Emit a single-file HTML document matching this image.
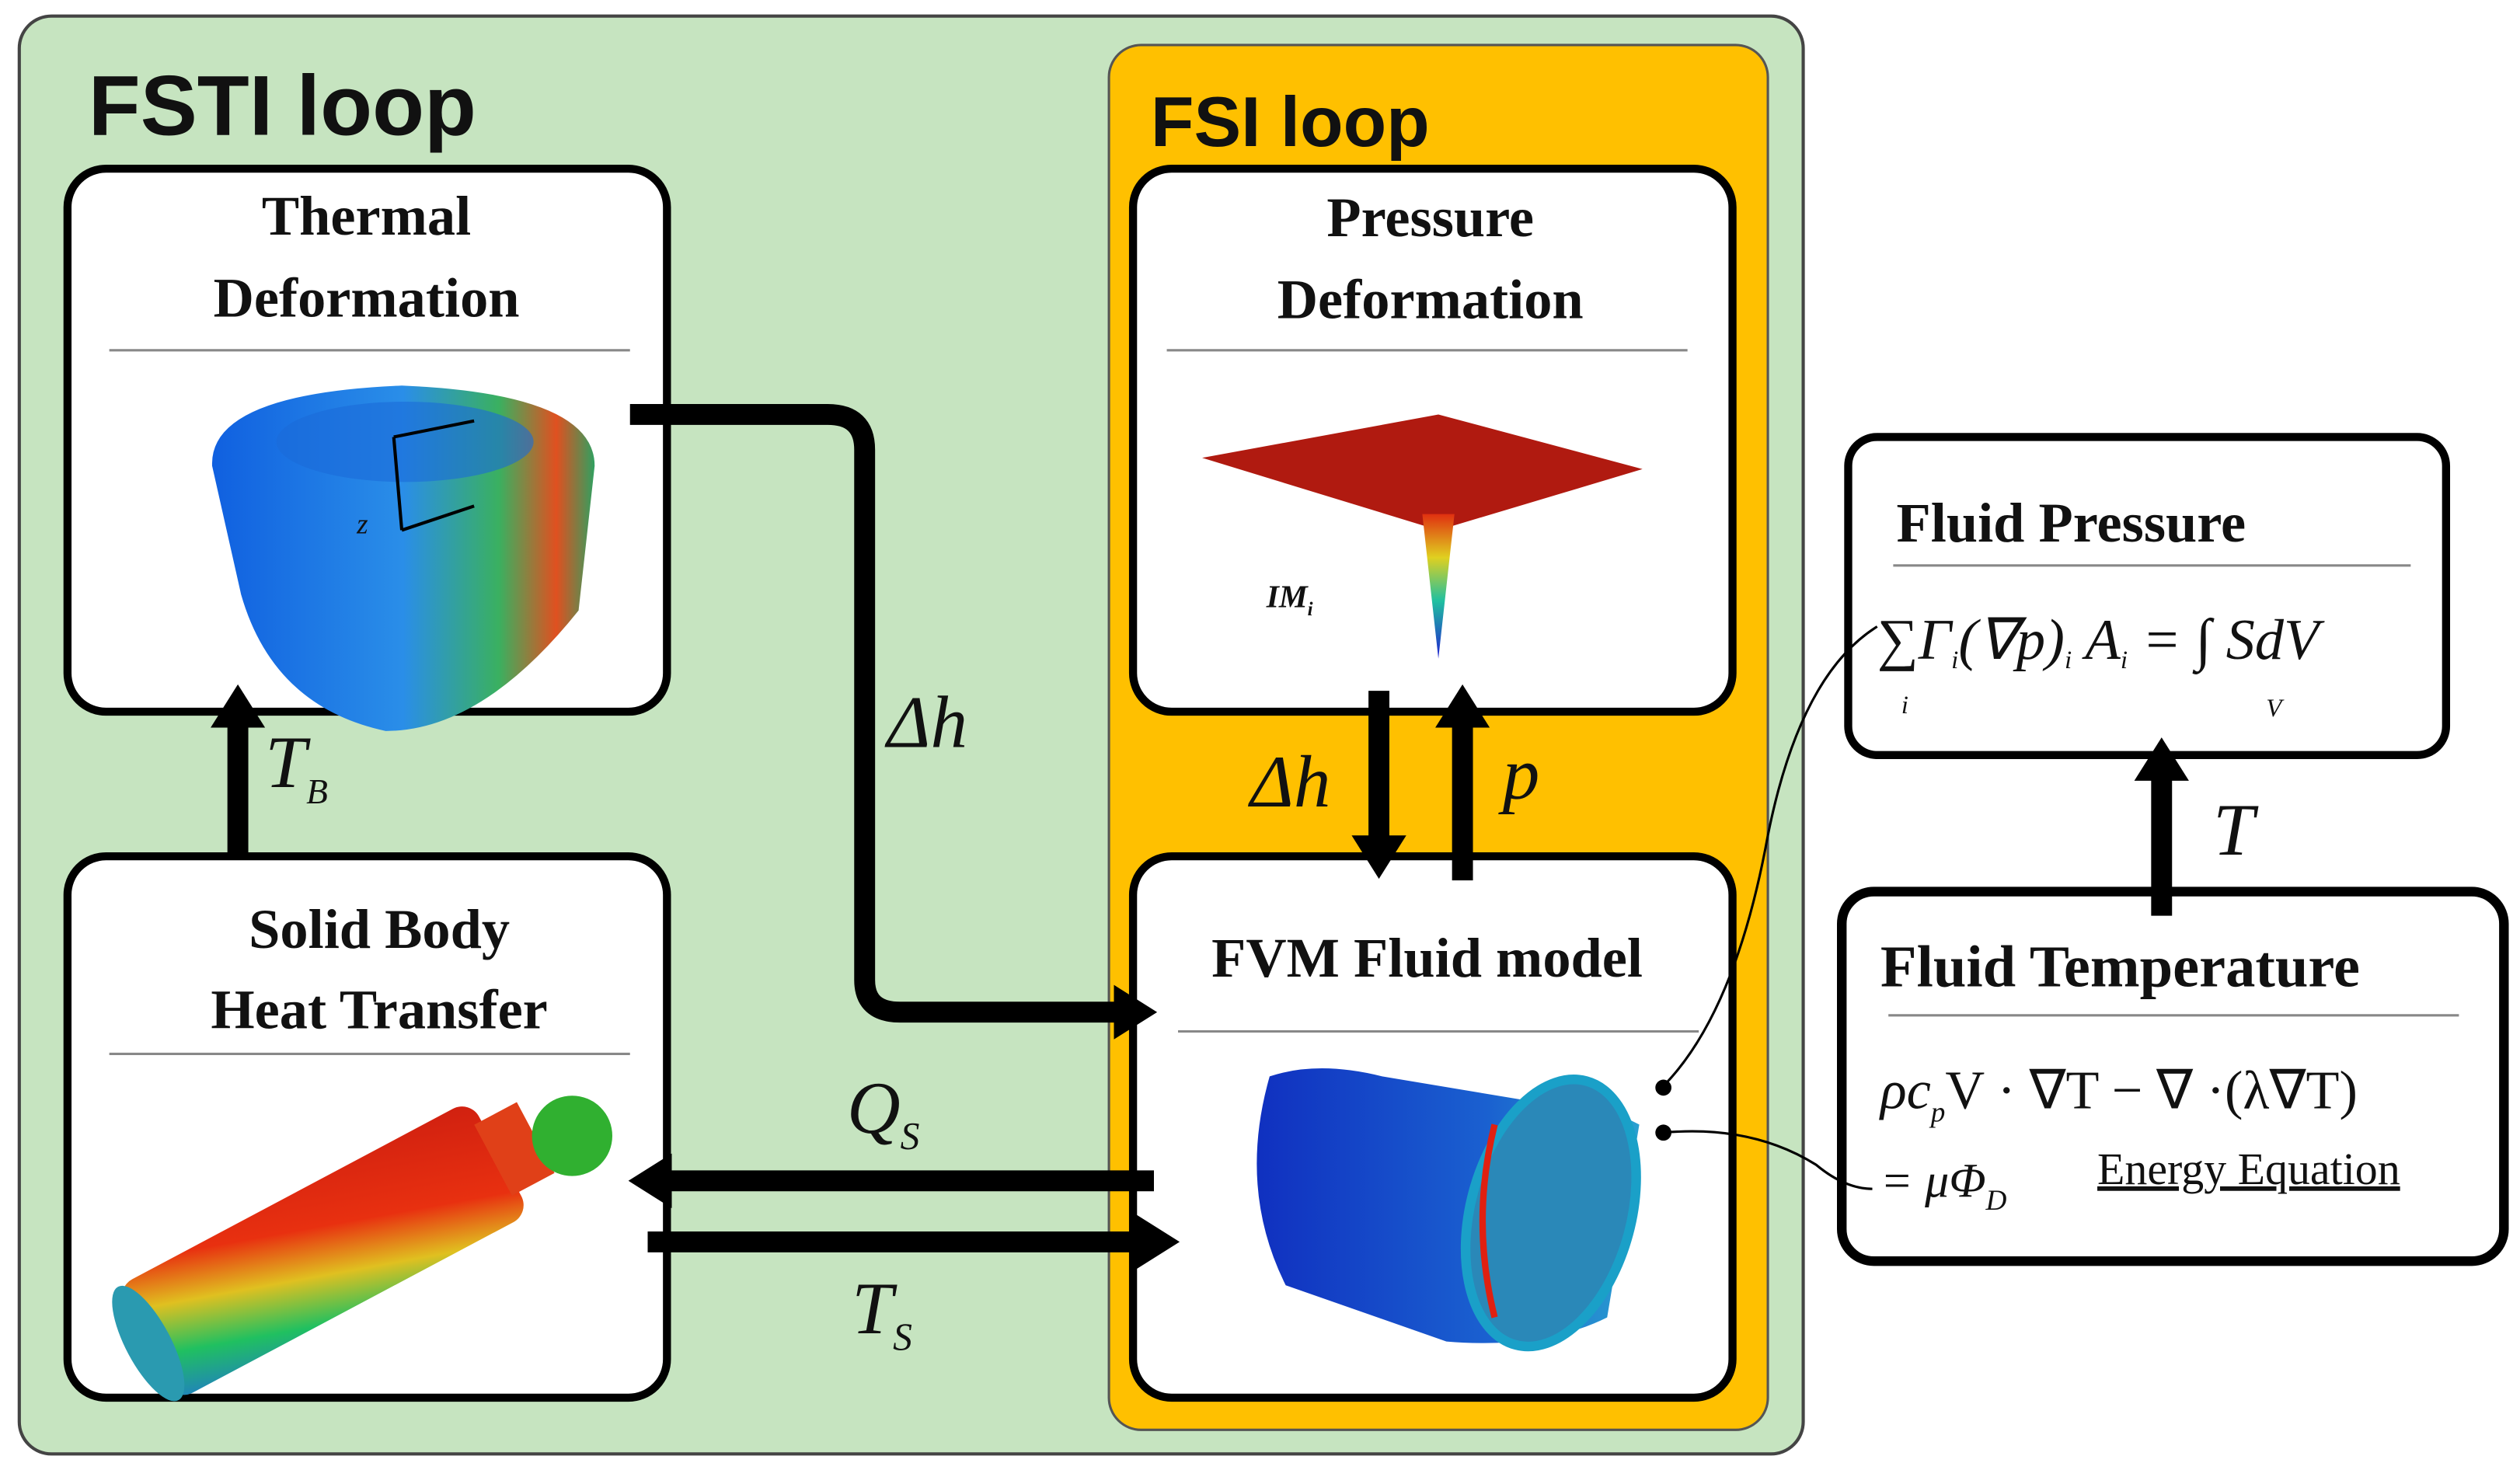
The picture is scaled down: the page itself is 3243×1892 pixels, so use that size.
<!DOCTYPE html>
<html><head><meta charset="utf-8"><style>
html,body{margin:0;padding:0;background:#fff;}
svg{display:block;}
.t{font-family:"Liberation Serif",serif;font-weight:bold;fill:#111;}
.m{font-family:"Liberation Serif",serif;font-style:italic;fill:#111;}
</style></head><body>
<svg width="3243" height="1892" viewBox="0 0 1568 915" preserveAspectRatio="none" xmlns="http://www.w3.org/2000/svg">
<defs>
<marker id="ah" markerWidth="28" markerHeight="34" refX="1" refY="17" orient="auto" markerUnits="userSpaceOnUse"><path d="M0,0 L27,17 L0,34 z" fill="#000"/></marker>
<linearGradient id="g1" x1="0" y1="0" x2="1" y2="0"><stop offset="0" stop-color="#1060e0"/><stop offset="0.5" stop-color="#2a8ee8"/><stop offset="0.75" stop-color="#3ab060"/><stop offset="0.9" stop-color="#e05020"/><stop offset="1" stop-color="#30a060"/></linearGradient>
<linearGradient id="g2" x1="0" y1="1" x2="1" y2="0"><stop offset="0" stop-color="#2080c0"/><stop offset="0.2" stop-color="#20c060"/><stop offset="0.4" stop-color="#e0c020"/><stop offset="0.6" stop-color="#e83010"/><stop offset="1" stop-color="#d02010"/></linearGradient>
<linearGradient id="g3" x1="0" y1="0" x2="1" y2="0"><stop offset="0" stop-color="#1030c0"/><stop offset="0.6" stop-color="#1a60d0"/><stop offset="1" stop-color="#2aa0d0"/></linearGradient>
<linearGradient id="g4" x1="0" y1="0" x2="0" y2="1"><stop offset="0" stop-color="#e03010"/><stop offset="0.3" stop-color="#e0d020"/><stop offset="0.6" stop-color="#20c0a0"/><stop offset="1" stop-color="#2020d0"/></linearGradient>
</defs>
<rect x="12" y="10" width="1110" height="895" rx="20" fill="#c6e4c0" stroke="#444" stroke-width="2"/>
<rect x="690" y="28" width="410" height="862" rx="20" fill="#ffc000" stroke="#555" stroke-width="1.5"/>
<text x="55" y="84" font-family="Liberation Sans,sans-serif" font-weight="bold" font-size="53" fill="#111">FSTI loop</text>
<text x="716" y="91" font-family="Liberation Sans,sans-serif" font-weight="bold" font-size="44" fill="#111">FSI loop</text>

<g stroke="#000" stroke-width="5" fill="#fff">
<rect x="42" y="105" width="373" height="338" rx="24"/>
<rect x="42" y="533" width="373" height="337" rx="24"/>
<rect x="705" y="105" width="373" height="338" rx="24"/>
<rect x="705" y="533" width="373" height="337" rx="24"/>
<rect x="1150" y="272" width="372" height="198" rx="18"/>
<rect x="1146" y="555" width="412" height="230" rx="20" stroke-width="6"/>
</g>
<g stroke="#888" stroke-width="1.5">
<line x1="68" y1="218" x2="392" y2="218"/><line x1="68" y1="656" x2="392" y2="656"/>
<line x1="726" y1="218" x2="1050" y2="218"/><line x1="733" y1="642" x2="1057" y2="642"/>
<line x1="1178" y1="352" x2="1500" y2="352"/><line x1="1175" y1="632" x2="1530" y2="632"/>
</g>
<g class="t" font-size="35" text-anchor="middle">
<text x="228" y="146">Thermal</text><text x="228" y="197">Deformation</text>
<text x="236" y="590">Solid Body</text><text x="236" y="640">Heat Transfer</text>
<text x="890" y="147">Pressure</text><text x="890" y="198">Deformation</text>
<text x="888" y="608">FVM Fluid model</text>
</g>
<text class="t" x="1180" y="337" font-size="35">Fluid Pressure</text>
<text class="t" x="1170" y="614" font-size="37">Fluid Temperature</text>
<text class="m" x="1168" y="410" font-size="36" font-style="normal">∑Γ<tspan font-size="16" dy="6">i</tspan><tspan dy="-6">(∇p)</tspan><tspan font-size="16" dy="6">i</tspan><tspan dy="-6"> A</tspan><tspan font-size="16" dy="6">i</tspan><tspan dy="-6"> = ∫ SdV</tspan></text>
<text class="m" x="1183" y="444" font-size="16">i</text><text class="m" x="1410" y="446" font-size="16">V</text>
<text class="m" x="1170" y="690" font-size="34">ρc<tspan font-size="18" dy="8">p</tspan><tspan dy="-8" font-style="normal">V · ∇T − ∇ ·(λ∇T)</tspan></text>
<text class="m" x="1170" y="745" font-size="30">= μΦ<tspan font-size="18" dy="8">D</tspan></text>
<text x="1305" y="737" font-family="Liberation Serif,serif" font-size="28" fill="#111" text-decoration="underline">Energy  Equation</text>

<!-- images -->
<g>
<path d="M132,290 Q130,245 250,240 Q370,245 370,290 L360,380 Q300,455 240,455 Q170,440 150,370 Z" fill="url(#g1)"/>
<ellipse cx="252" cy="275" rx="80" ry="25" fill="#1a6ad8" opacity="0.6"/>
<path d="M245,272 L295,262 M245,272 L250,330 M250,330 L295,315" stroke="#000" stroke-width="2" fill="none"/>
<text class="m" x="222" y="332" font-size="18">z</text>
</g>
<g transform="rotate(-28 225 760)">
<rect x="70" y="725" width="250" height="80" rx="12" fill="url(#g2)"/>
<ellipse cx="72" cy="765" rx="14" ry="40" fill="#2a9ab0"/>
<rect x="315" y="740" width="30" height="50" fill="#e04018"/>
</g>
<circle cx="356" cy="707" r="25" fill="#30b030"/>
<path d="M748,285 L895,258 L1022,292 L895,330 Z" fill="#b01a10"/>
<path d="M885,320 L895,410 L905,320 Z" fill="url(#g4)"/>
<text class="m" x="788" y="378" font-size="20" font-weight="bold">IM<tspan font-size="12" dy="5">i</tspan></text>
<path d="M790,670 Q820,660 860,670 L1010,695 L1020,700 L1000,820 Q960,840 900,835 L800,800 Q770,740 790,670 Z" fill="url(#g3)"/>
<ellipse cx="965" cy="755" rx="50" ry="85" fill="#2a88b8" stroke="#1aa0c8" stroke-width="6" transform="rotate(15 965 755)"/>
<path d="M930,700 Q915,760 930,820" stroke="#e02010" stroke-width="4" fill="none"/>

<!-- arrows -->
<g stroke="#000" stroke-width="13" fill="none">
<line x1="148" y1="533" x2="148" y2="452" marker-end="url(#ah)"/>
<path d="M392,258 L515,258 Q538,258 538,280 L538,610 Q538,630 560,630 L694,630" marker-end="url(#ah)"/>
<line x1="858" y1="430" x2="858" y2="521" marker-end="url(#ah)"/>
<line x1="910" y1="548" x2="910" y2="452" marker-end="url(#ah)"/>
<line x1="718" y1="735" x2="417" y2="735" marker-end="url(#ah)"/>
<line x1="403" y1="773" x2="708" y2="773" marker-end="url(#ah)"/>
<line x1="1345" y1="570" x2="1345" y2="485" marker-end="url(#ah)"/>
</g>
<path d="M1035,676 Q1080,630 1100,520 Q1120,420 1168,390" stroke="#000" stroke-width="1.5" fill="none"/>
<path d="M1035,705 Q1090,700 1130,725 Q1148,740 1165,740" stroke="#000" stroke-width="1.5" fill="none"/>
<circle cx="1035" cy="677" r="5"/><circle cx="1035" cy="705" r="5"/>
<g class="m" font-size="46">
<text x="552" y="465">Δh</text>
<text x="778" y="502">Δh</text>
<text x="935" y="497">p</text>
<text x="165" y="490">T<tspan font-size="22" dy="10">B</tspan></text>
<text x="527" y="705">Q<tspan font-size="24" dy="10">S</tspan></text>
<text x="530" y="830">T<tspan font-size="24" dy="10">S</tspan></text>
<text x="1377" y="532">T</text>
</g>
</svg>
</body></html>
